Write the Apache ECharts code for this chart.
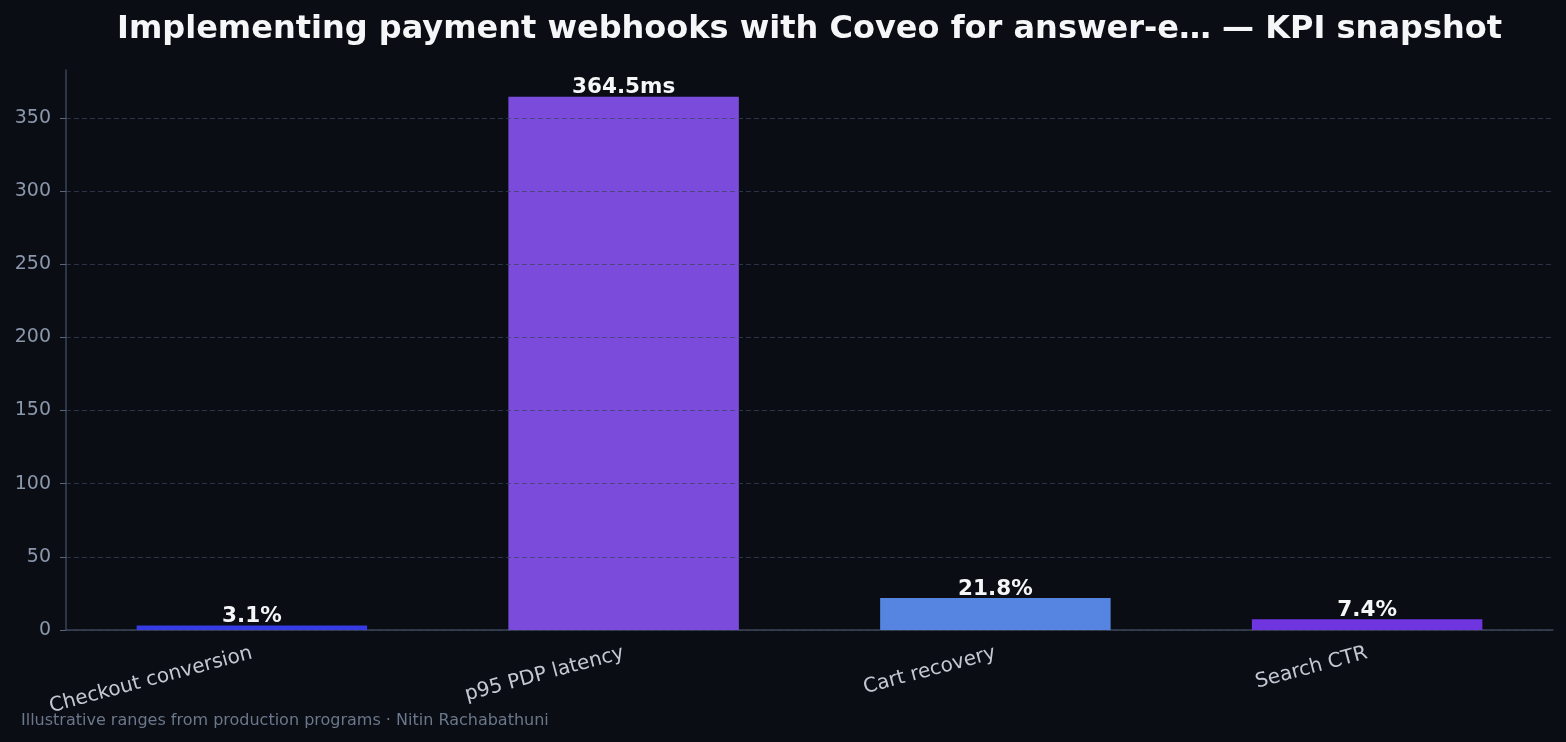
<!DOCTYPE html>
<html>
  <head>
    <title>KPI snapshot</title>
    <meta http-equiv="content-type" content="text/html; charset=UTF-8">
    <script src="https://cdn.jsdelivr.net/npm/echarts@6/dist/echarts.min.js"></script>
    <style>
      html, body { margin: 0; padding: 0; background: #0a0d14; }
      #main { width: 1566px; height: 742px; }
    </style>
  </head>
  <body>
    <div id="main"></div>
  </body>
  <script type="text/javascript">
  // chart data
  var categories = ['Checkout conversion', 'p95 PDP latency', 'Cart recovery', 'Search CTR'];
  var values = [3.1, 364.5, 21.8, 7.4];
  var valueLabels = ['3.1%', '364.5ms', '21.8%', '7.4%'];
  var barColors = ['#363be3', '#7b4cdb', '#5585e0', '#6f35de'];
  var yTicks = [0, 50, 100, 150, 200, 250, 300, 350];
  var yMax = 382.7;

  var gridColor = 'rgba(60,68,92,0.7)';
  // last split line sits on the top edge (max), hide it
  var splitColors = yTicks.map(function () { return gridColor; });
  splitColors.push('rgba(0,0,0,0)');

  var myChart = echarts.init(document.getElementById('main'));
  var option = {
    backgroundColor: '#0a0d14',
    animation: false,
    title: {
      text: 'Implementing payment webhooks with Coveo for answer-e\u2026 \u2014 KPI snapshot',
      left: 112,
      top: 9,
      textStyle: {
        color: '#f5f6f8',
        fontFamily: 'DejaVu Sans',
        fontWeight: 'bold',
        fontSize: 32
      }
    },
    graphic: [{
      type: 'text',
      left: 21,
      top: 713,
      style: {
        text: 'Illustrative ranges from production programs \u00b7 Nitin Rachabathuni',
        fill: '#6b778a',
        font: '16px "DejaVu Sans"'
      }
    }],
    grid: {
      left: 66,
      right: 13,
      top: 70,
      bottom: 112,
      containLabel: false
    },
    xAxis: {
      type: 'category',
      data: categories,
      axisLine: { lineStyle: { color: '#3a4556', width: 1.5 } },
      axisTick: { alignWithLabel: true, length: 5, lineStyle: { color: '#000000' } },
      axisLabel: {
        rotate: 15,
        margin: 23,
        color: '#c3c8d2',
        fontFamily: 'DejaVu Sans',
        fontSize: 20
      }
    },
    yAxis: {
      type: 'value',
      min: 0,
      max: yMax,
      interval: 50,
      z: 5,
      axisLine: { show: true, lineStyle: { color: '#3a4556', width: 1.5 } },
      axisTick: { show: true, length: 6, lineStyle: { color: '#5a6578' } },
      axisLabel: {
        showMaxLabel: false,
        margin: 15,
        color: '#8b97ab',
        fontFamily: 'DejaVu Sans',
        fontSize: 19,
        formatter: function (v) { return v % 50 === 0 ? String(v) : ''; }
      },
      splitLine: {
        show: true,
        lineStyle: { color: splitColors, type: [5, 3], width: 1.2 }
      }
    },
    series: [{
      type: 'bar',
      barWidth: '62%',
      data: values.map(function (v, i) {
        return { value: v, itemStyle: { color: barColors[i] } };
      }),
      label: {
        show: true,
        position: 'top',
        distance: -2,
        formatter: function (p) { return valueLabels[p.dataIndex]; },
        color: '#f5f6f8',
        fontFamily: 'DejaVu Sans',
        fontWeight: 'bold',
        fontSize: 21.5
      }
    }]
  };
  myChart.setOption(option);
  </script>
</html>
